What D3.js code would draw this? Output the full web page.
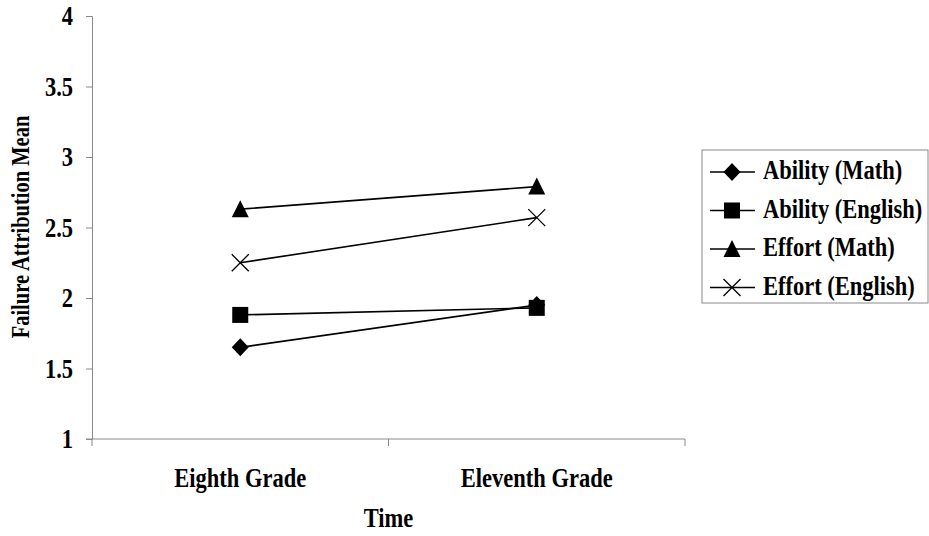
<!DOCTYPE html>
<html>
<head>
<meta charset="utf-8">
<script src="https://cdn.jsdelivr.net/npm/d3@7"></script>
<style>
  html, body { margin: 0; padding: 0; background: #fff; }
  svg { display: block; }
  text { font-family: "Liberation Serif", "Times New Roman", serif; font-weight: bold; fill: #000; }
</style>
</head>
<body>
<svg id="chart" width="929" height="536"></svg>
<script>
// Time points and failure attribution means per series
const grades = ["Eighth Grade", "Eleventh Grade"];
const abilityMath = [1.65, 1.95];
const abilityEnglish = [1.88, 1.93];
const effortMath = [2.63, 2.79];
const effortEnglish = [2.25, 2.57];
const yTicks = [1, 1.5, 2, 2.5, 3, 3.5, 4];

const series = [
  { name: "Ability (Math)", values: abilityMath, symbol: "diamond" },
  { name: "Ability (English)", values: abilityEnglish, symbol: "square" },
  { name: "Effort (Math)", values: effortMath, symbol: "triangle" },
  { name: "Effort (English)", values: effortEnglish, symbol: "cross" }
];

const svg = d3.select("#chart");
const margin = { left: 92, right: 685, top: 16, bottom: 439 };
const stretch = 1.2;   // tall, narrow lettering
const fontSize = 22.5;

const x = d3.scaleBand().domain(grades).range([margin.left, margin.right]);
const y = d3.scaleLinear().domain([1, 4]).range([margin.bottom, margin.top]);
const axisColor = "#8a8a8a";

// Text helper: positioned group, then a vertically stretched label
function label(parent, px, py, str, anchor, rotate, size) {
  const g = parent.append("g")
    .attr("transform", `translate(${px},${py})` + (rotate ? ` rotate(${rotate})` : ""));
  return g.append("text")
    .attr("transform", `scale(1,${stretch})`)
    .attr("text-anchor", anchor || "start")
    .attr("font-size", size || fontSize)
    .text(str);
}

// Y axis
const yAxis = svg.append("g")
  .attr("transform", `translate(${margin.left},0)`)
  .call(d3.axisLeft(y).tickValues(yTicks).tickSize(6).tickPadding(13)
    .tickFormat(d => d3.format("~g")(d)));
yAxis.select(".domain").attr("stroke", axisColor);
yAxis.selectAll(".tick line").attr("stroke", axisColor);
yAxis.selectAll(".tick text")
  .attr("font-size", fontSize)
  .attr("font-family", "Liberation Serif")
  .attr("font-weight", "bold")
  .attr("transform", `scale(1,${stretch})`);

// X axis with tick marks at the category boundaries
const xAxisG = svg.append("g").attr("transform", `translate(0,${margin.bottom})`);
xAxisG.append("line")
  .attr("x1", margin.left - 6).attr("x2", margin.right)
  .attr("stroke", axisColor);
const boundaries = [margin.left, ...grades.slice(1).map(g => x(g)), margin.right];
xAxisG.selectAll("line.bt").data(boundaries).join("line")
  .attr("class", "bt")
  .attr("x1", d => d).attr("x2", d => d)
  .attr("y1", 0).attr("y2", 7)
  .attr("stroke", axisColor);
grades.forEach(gname => {
  label(xAxisG, x(gname) + x.bandwidth() / 2, 48, gname, "middle");
});

// Axis titles
label(svg, (margin.left + margin.right) / 2, 527, "Time", "middle");
label(svg, 29, 227, "Failure Attribution Mean", "middle", -90, 20.5);

// Marker shapes
function drawMarker(g, symbol) {
  if (symbol === "diamond") {
    g.append("path").attr("d", "M0,-9 L8.5,0 L0,9 L-8.5,0 Z").attr("fill", "#000");
  } else if (symbol === "square") {
    g.append("rect").attr("x", -8).attr("y", -8).attr("width", 16).attr("height", 16).attr("fill", "#000");
  } else if (symbol === "triangle") {
    g.append("path").attr("d", "M0,-9 L8.5,8 L-8.5,8 Z").attr("fill", "#000");
  } else if (symbol === "cross") {
    g.append("path").attr("d", "M-8.5,-8.5 L8.5,8.5 M-8.5,8.5 L8.5,-8.5")
      .attr("stroke", "#000").attr("stroke-width", 1.3).attr("fill", "none");
  }
}

const line = d3.line()
  .x((d, i) => x(grades[i]) + x.bandwidth() / 2)
  .y(d => y(d));

const plot = svg.append("g");
series.forEach(s => {
  plot.append("path")
    .attr("d", line(s.values))
    .attr("fill", "none")
    .attr("stroke", "#000")
    .attr("stroke-width", 1.6);
});
series.forEach(s => {
  s.values.forEach((v, i) => {
    const g = plot.append("g")
      .attr("transform", `translate(${x(grades[i]) + x.bandwidth() / 2},${y(v)})`);
    drawMarker(g, s.symbol);
  });
});

// Legend
const legend = svg.append("g").attr("transform", "translate(702,150)");
legend.append("rect")
  .attr("x", 0).attr("y", 0).attr("width", 226).attr("height", 153)
  .attr("fill", "#fff").attr("stroke", "#8a8a8a");
series.forEach((s, i) => {
  const row = legend.append("g").attr("transform", `translate(0,${22 + i * 38.5})`);
  row.append("line").attr("x1", 8).attr("x2", 53).attr("stroke", "#000").attr("stroke-width", 1.6);
  const m = row.append("g").attr("transform", "translate(30,0)");
  drawMarker(m, s.symbol);
  label(row, 61, 7, s.name, "start");
});
</script>
</body>
</html>
